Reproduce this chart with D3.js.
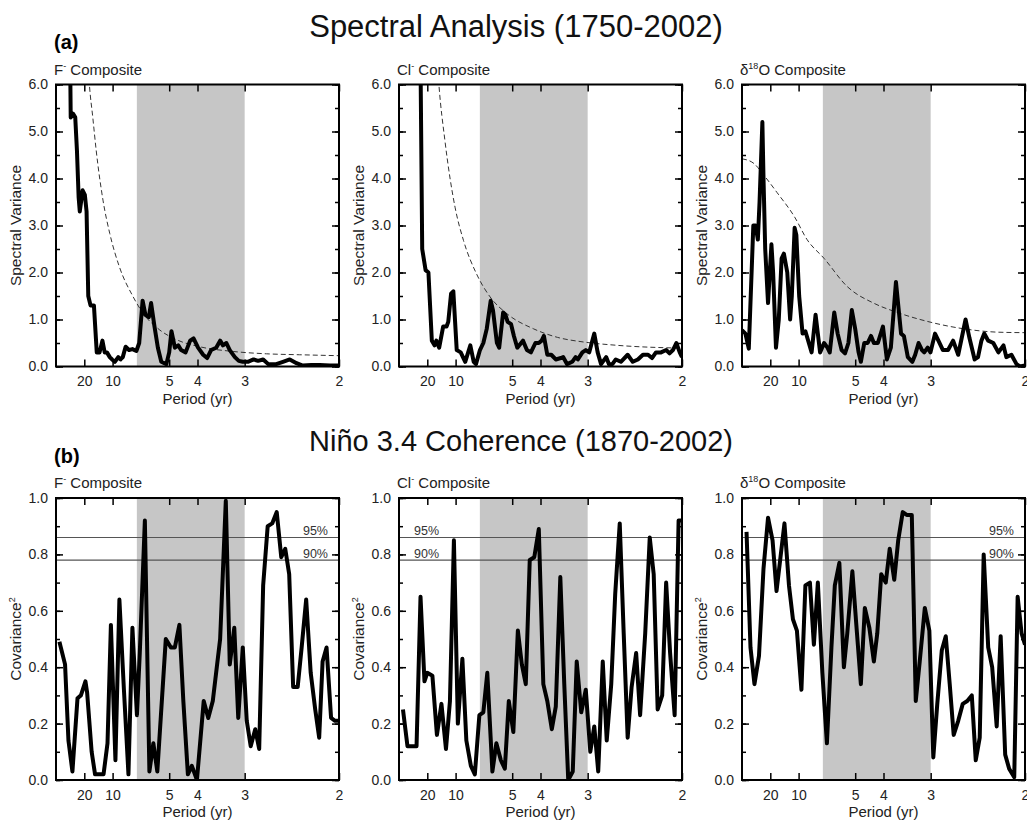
<!DOCTYPE html>
<html>
<head>
<meta charset="utf-8">
<script src="https://cdn.jsdelivr.net/npm/d3@7"></script>
<style>
  body { margin: 0; background: #fff; }
  text { font-family: "Liberation Sans", Arial, sans-serif; }
</style>
</head>
<body>
<svg id="chart" width="1027" height="824"></svg>
<script>
// x axis is frequency (1/yr), labelled with periods
var periodTicks = [20, 10, 5, 4, 3, 2];
var bandPeriods = [7, 3];           // shaded ENSO band
var sigLevels = [["95%", 0.86], ["90%", 0.78]];

// (a) spectral variance, [frequency, variance]
var fSpectrum = [[0.025,6.5],[0.026,5.3],[0.030,5.38],[0.034,5.3],[0.037,4.6],[0.040,3.6],[0.042,3.3],[0.047,3.75],[0.051,3.65],[0.054,3.3],[0.057,1.5],[0.061,1.3],[0.067,1.3],[0.072,0.3],[0.077,0.3],[0.082,0.55],[0.086,0.3],[0.090,0.3],[0.095,0.2],[0.099,0.15],[0.104,0.1],[0.110,0.2],[0.114,0.15],[0.118,0.2],[0.123,0.42],[0.129,0.35],[0.135,0.37],[0.142,0.33],[0.147,0.5],[0.153,1.4],[0.158,1.1],[0.164,1.05],[0.168,1.35],[0.174,0.85],[0.180,0.4],[0.186,0.1],[0.195,0.05],[0.200,0.3],[0.204,0.75],[0.210,0.4],[0.216,0.45],[0.221,0.35],[0.229,0.3],[0.237,0.55],[0.243,0.6],[0.251,0.4],[0.260,0.25],[0.267,0.18],[0.274,0.35],[0.283,0.4],[0.290,0.55],[0.295,0.45],[0.301,0.5],[0.307,0.35],[0.316,0.2],[0.323,0.12],[0.330,0.1],[0.339,0.1],[0.349,0.15],[0.357,0.12],[0.366,0.15],[0.375,0.05],[0.389,0.05],[0.401,0.1],[0.413,0.15],[0.425,0.07],[0.436,0.02],[0.451,0.03],[0.466,0.03],[0.484,0.02],[0.499,0.02]];
var fNoise = [[0.055,6.8],[0.059,6.0],[0.065,5.3],[0.071,4.6],[0.083,3.54],[0.095,2.83],[0.112,2.12],[0.136,1.49],[0.154,1.13],[0.183,0.78],[0.213,0.57],[0.254,0.42],[0.313,0.32],[0.372,0.27],[0.43,0.25],[0.5,0.23]];

var clSpectrum = [[0.038,6.5],[0.041,2.5],[0.047,2.05],[0.052,2.0],[0.058,0.55],[0.063,0.45],[0.066,0.55],[0.071,0.4],[0.078,0.85],[0.084,0.85],[0.087,0.95],[0.092,1.55],[0.096,1.6],[0.102,0.35],[0.109,0.3],[0.117,0.1],[0.126,0.45],[0.132,0.1],[0.136,0.05],[0.143,0.35],[0.149,0.5],[0.155,0.8],[0.162,1.4],[0.166,1.2],[0.173,0.5],[0.177,0.4],[0.184,1.15],[0.188,1.1],[0.192,0.95],[0.198,0.9],[0.203,0.65],[0.209,0.4],[0.219,0.55],[0.226,0.35],[0.233,0.3],[0.241,0.5],[0.247,0.5],[0.252,0.55],[0.256,0.65],[0.262,0.25],[0.269,0.25],[0.277,0.15],[0.286,0.18],[0.290,0.2],[0.297,0.05],[0.306,0.1],[0.312,0.2],[0.316,0.15],[0.324,0.3],[0.330,0.35],[0.336,0.3],[0.345,0.7],[0.351,0.3],[0.357,0.05],[0.366,0.2],[0.371,0.05],[0.377,0.05],[0.383,0.15],[0.392,0.1],[0.404,0.25],[0.413,0.1],[0.422,0.15],[0.431,0.25],[0.440,0.25],[0.447,0.18],[0.454,0.3],[0.463,0.3],[0.472,0.35],[0.478,0.28],[0.484,0.35],[0.490,0.5],[0.496,0.3],[0.500,0.2]];
var clNoise = [[0.066,6.8],[0.0705,6.0],[0.081,4.82],[0.099,3.39],[0.114,2.68],[0.137,1.97],[0.161,1.48],[0.191,1.12],[0.238,0.8],[0.28,0.62],[0.327,0.52],[0.386,0.45],[0.5,0.39]];

var oSpectrum = [[0.000,0.77],[0.006,0.7],[0.012,0.38],[0.020,3.0],[0.024,3.0],[0.028,2.7],[0.031,3.5],[0.036,5.2],[0.038,4.0],[0.041,2.5],[0.046,1.35],[0.052,2.6],[0.055,2.0],[0.060,0.4],[0.065,1.0],[0.070,2.3],[0.074,2.4],[0.080,2.0],[0.085,1.0],[0.088,1.5],[0.093,2.95],[0.096,2.8],[0.101,1.5],[0.107,0.7],[0.112,0.75],[0.123,0.3],[0.130,1.1],[0.138,0.3],[0.145,0.5],[0.151,0.4],[0.155,0.3],[0.163,1.15],[0.169,0.7],[0.176,0.35],[0.182,0.28],[0.188,0.5],[0.194,1.2],[0.200,0.8],[0.206,0.3],[0.210,0.1],[0.216,0.5],[0.222,0.5],[0.228,0.65],[0.233,0.5],[0.240,0.5],[0.249,0.85],[0.256,0.15],[0.263,0.4],[0.272,1.8],[0.281,0.7],[0.286,0.65],[0.293,0.2],[0.301,0.1],[0.306,0.25],[0.312,0.5],[0.318,0.35],[0.322,0.3],[0.328,0.4],[0.333,0.3],[0.341,0.7],[0.347,0.55],[0.355,0.35],[0.364,0.35],[0.373,0.55],[0.382,0.25],[0.395,1.0],[0.402,0.6],[0.411,0.15],[0.417,0.2],[0.423,0.55],[0.428,0.7],[0.435,0.55],[0.444,0.5],[0.453,0.3],[0.462,0.45],[0.467,0.2],[0.476,0.25],[0.485,0.05],[0.491,0.0],[0.500,0.02]];
var oNoise = [[0,4.42],[0.021,4.32],[0.038,4.08],[0.062,3.7],[0.093,3.18],[0.115,2.7],[0.145,2.3],[0.186,1.7],[0.234,1.34],[0.272,1.16],[0.334,0.94],[0.393,0.8],[0.453,0.73],[0.5,0.72]];

// (b) coherence with Nino 3.4, [frequency, covariance^2]
var fCoherence = [[0.006,0.49],[0.016,0.41],[0.022,0.14],[0.029,0.03],[0.038,0.29],[0.044,0.3],[0.052,0.35],[0.055,0.31],[0.063,0.1],[0.069,0.02],[0.076,0.02],[0.084,0.02],[0.091,0.13],[0.097,0.55],[0.105,0.07],[0.112,0.64],[0.120,0.32],[0.128,0.02],[0.135,0.54],[0.143,0.23],[0.148,0.45],[0.157,0.92],[0.165,0.03],[0.172,0.13],[0.179,0.03],[0.194,0.5],[0.203,0.47],[0.210,0.47],[0.218,0.55],[0.225,0.28],[0.233,0.02],[0.240,0.05],[0.249,0.0],[0.261,0.28],[0.269,0.22],[0.277,0.28],[0.290,0.5],[0.300,0.99],[0.307,0.41],[0.315,0.54],[0.322,0.22],[0.330,0.47],[0.337,0.21],[0.344,0.12],[0.352,0.18],[0.359,0.11],[0.366,0.69],[0.374,0.9],[0.382,0.91],[0.390,0.95],[0.398,0.79],[0.405,0.82],[0.412,0.73],[0.419,0.33],[0.427,0.33],[0.434,0.47],[0.442,0.64],[0.450,0.38],[0.458,0.25],[0.465,0.15],[0.471,0.42],[0.478,0.47],[0.486,0.22],[0.493,0.21],[0.500,0.21]];
var clCoherence = [[0.007,0.25],[0.015,0.12],[0.022,0.12],[0.031,0.12],[0.038,0.65],[0.045,0.35],[0.050,0.38],[0.059,0.37],[0.067,0.16],[0.075,0.27],[0.083,0.11],[0.090,0.28],[0.097,0.85],[0.104,0.2],[0.112,0.43],[0.119,0.14],[0.127,0.05],[0.134,0.02],[0.142,0.23],[0.149,0.24],[0.156,0.38],[0.165,0.03],[0.172,0.13],[0.180,0.07],[0.187,0.04],[0.194,0.28],[0.202,0.17],[0.210,0.53],[0.217,0.41],[0.224,0.34],[0.231,0.78],[0.239,0.79],[0.247,0.89],[0.255,0.34],[0.262,0.28],[0.270,0.18],[0.277,0.26],[0.285,0.72],[0.292,0.34],[0.299,0.0],[0.307,0.03],[0.314,0.42],[0.322,0.24],[0.330,0.32],[0.338,0.1],[0.345,0.19],[0.352,0.03],[0.360,0.42],[0.367,0.14],[0.375,0.34],[0.382,0.66],[0.390,0.91],[0.397,0.52],[0.404,0.15],[0.411,0.33],[0.419,0.45],[0.426,0.23],[0.435,0.52],[0.443,0.86],[0.450,0.73],[0.457,0.25],[0.465,0.3],[0.472,0.7],[0.479,0.45],[0.487,0.23],[0.494,0.92],[0.500,0.92]];
var oCoherence = [[0.008,0.88],[0.015,0.47],[0.022,0.34],[0.030,0.44],[0.038,0.75],[0.046,0.93],[0.054,0.85],[0.061,0.67],[0.068,0.79],[0.075,0.91],[0.083,0.69],[0.090,0.57],[0.097,0.53],[0.105,0.32],[0.112,0.69],[0.120,0.7],[0.127,0.48],[0.134,0.7],[0.142,0.38],[0.150,0.13],[0.158,0.47],[0.164,0.69],[0.172,0.77],[0.180,0.4],[0.186,0.52],[0.195,0.74],[0.202,0.55],[0.210,0.34],[0.217,0.61],[0.225,0.54],[0.233,0.42],[0.239,0.52],[0.246,0.73],[0.254,0.7],[0.261,0.82],[0.269,0.71],[0.276,0.85],[0.284,0.95],[0.291,0.94],[0.300,0.94],[0.307,0.28],[0.314,0.42],[0.323,0.61],[0.331,0.53],[0.338,0.08],[0.345,0.27],[0.353,0.46],[0.360,0.51],[0.367,0.34],[0.374,0.16],[0.382,0.21],[0.390,0.27],[0.398,0.28],[0.406,0.3],[0.413,0.07],[0.420,0.15],[0.427,0.8],[0.435,0.47],[0.442,0.4],[0.450,0.19],[0.457,0.51],[0.465,0.09],[0.472,0.04],[0.481,0.01],[0.487,0.65],[0.494,0.52],[0.500,0.48]];

var svg = d3.select("#chart");
var W = 283, H = 282;
var lefts = [56, 399, 742];
var tops = [84.5, 498];
var panelNo = 0;

function addSup(t, base, sup, rest) {
  t.append("tspan").text(base);
  t.append("tspan").attr("dy", -6).attr("font-size", "9px").text(sup);
  t.append("tspan").attr("dy", 6).text(rest);
}

function drawPanel(px, py, cfg) {
  var id = "clip" + (panelNo++);
  var g = svg.append("g").attr("transform", "translate(" + px + "," + py + ")");
  var x = d3.scaleLinear().domain([0, 0.5]).range([0, W]);
  var y = d3.scaleLinear().domain([0, cfg.yMax]).range([H, 0]);

  g.append("clipPath").attr("id", id).append("rect").attr("width", W).attr("height", H);

  // shaded 3-7 yr band
  g.append("rect")
    .attr("x", x(1 / bandPeriods[0]))
    .attr("width", x(1 / bandPeriods[1]) - x(1 / bandPeriods[0]))
    .attr("y", 0).attr("height", H)
    .attr("fill", "#c6c6c6");

  var tickF = periodTicks.map(function (p) { return 1 / p; });
  var major = d3.range(0, cfg.yMax + 1e-9, cfg.step);
  var minor = d3.range(0, cfg.yMax + 1e-9, cfg.step / 2);

  function styleAxis(sel) {
    sel.select(".domain").remove();
    sel.selectAll("line").attr("stroke", "#000").attr("stroke-width", 1.5);
    sel.selectAll("text").attr("font-size", "14px").attr("font-family", "Liberation Sans, Arial, sans-serif").attr("fill", "#222");
  }

  g.append("g").attr("transform", "translate(0," + H + ")")
    .call(d3.axisBottom(x).tickValues(tickF).tickSize(-7).tickPadding(10)
      .tickFormat(function (f) { return Math.round(1 / f); }))
    .call(styleAxis);
  g.append("g")
    .call(d3.axisTop(x).tickValues(tickF).tickSize(-7).tickFormat(""))
    .call(styleAxis);
  g.append("g")
    .call(d3.axisLeft(y).tickValues(minor).tickSize(-4).tickFormat(""))
    .call(styleAxis);
  g.append("g")
    .call(d3.axisLeft(y).tickValues(major).tickSize(-7).tickPadding(8).tickFormat(d3.format(".1f")))
    .call(styleAxis);
  g.append("g").attr("transform", "translate(" + W + ",0)")
    .call(d3.axisRight(y).tickValues(minor).tickSize(-4).tickFormat(""))
    .call(styleAxis);
  g.append("g").attr("transform", "translate(" + W + ",0)")
    .call(d3.axisRight(y).tickValues(major).tickSize(-7).tickFormat(""))
    .call(styleAxis);

  var line = d3.line().x(function (d) { return x(d[0]); }).y(function (d) { return y(d[1]); });
  var plot = g.append("g").attr("clip-path", "url(#" + id + ")");

  if (cfg.noise) {
    plot.append("path").datum(cfg.noise)
      .attr("d", line.curve(d3.curveMonotoneX))
      .attr("fill", "none").attr("stroke", "#333").attr("stroke-width", 1)
      .attr("stroke-dasharray", "5,3");
    line.curve(d3.curveLinear);
  }

  if (cfg.sig) {
    sigLevels.forEach(function (s) {
      plot.append("line").attr("x1", 0).attr("x2", W)
        .attr("y1", y(s[1])).attr("y2", y(s[1]))
        .attr("stroke", "#555").attr("stroke-width", 1.2);
      g.append("text")
        .attr("x", cfg.sigLeft ? 15 : W - 11)
        .attr("y", y(s[1]) - 2)
        .attr("text-anchor", cfg.sigLeft ? "start" : "end")
        .attr("font-size", "12.5px").attr("fill", "#333")
        .text(s[0]);
    });
  }

  plot.append("path").datum(cfg.data)
    .attr("d", line)
    .attr("fill", "none").attr("stroke", "#000")
    .attr("stroke-width", 4).attr("stroke-linejoin", "round");

  g.append("rect").attr("width", W).attr("height", H)
    .attr("fill", "none").attr("stroke", "#000").attr("stroke-width", 2);

  // panel title
  var t = g.append("text").attr("x", -2).attr("y", -10).attr("font-size", "15px").attr("fill", "#222");
  addSup(t, cfg.title[0], cfg.title[1], cfg.title[2]);

  // y label
  var yl = g.append("text")
    .attr("transform", "translate(-35," + (H / 2) + ") rotate(-90)")
    .attr("text-anchor", "middle").attr("font-size", "15.5px").attr("fill", "#222");
  if (cfg.sig) addSup(yl, "Covariance", "2", "");
  else yl.text("Spectral Variance");

  g.append("text").attr("x", W / 2).attr("y", H + 37)
    .attr("text-anchor", "middle").attr("font-size", "15px").attr("fill", "#222")
    .text("Period (yr)");
}

var titles = [["F", "-", " Composite"], ["Cl", "-", " Composite"], ["\u03b4", "18", "O Composite"]];
var spectra = [[fSpectrum, fNoise], [clSpectrum, clNoise], [oSpectrum, oNoise]];
var coherence = [fCoherence, clCoherence, oCoherence];

spectra.forEach(function (s, i) {
  drawPanel(lefts[i], tops[0], { yMax: 6, step: 1, data: s[0], noise: s[1], title: titles[i] });
});
coherence.forEach(function (c, i) {
  drawPanel(lefts[i], tops[1], { yMax: 1, step: 0.2, data: c, sig: true, sigLeft: i === 1, title: titles[i] });
});

svg.append("text").attr("x", 516).attr("y", 37).attr("text-anchor", "middle")
  .attr("font-size", "31px").attr("fill", "#111").text("Spectral Analysis (1750-2002)");
svg.append("text").attr("x", 521).attr("y", 451).attr("text-anchor", "middle")
  .attr("font-size", "29px").attr("fill", "#111").text("Niño 3.4 Coherence (1870-2002)");
svg.append("text").attr("x", 54).attr("y", 49).attr("font-size", "20px").attr("font-weight", "bold").text("(a)");
svg.append("text").attr("x", 54).attr("y", 463).attr("font-size", "20px").attr("font-weight", "bold").text("(b)");
</script>
</body>
</html>
